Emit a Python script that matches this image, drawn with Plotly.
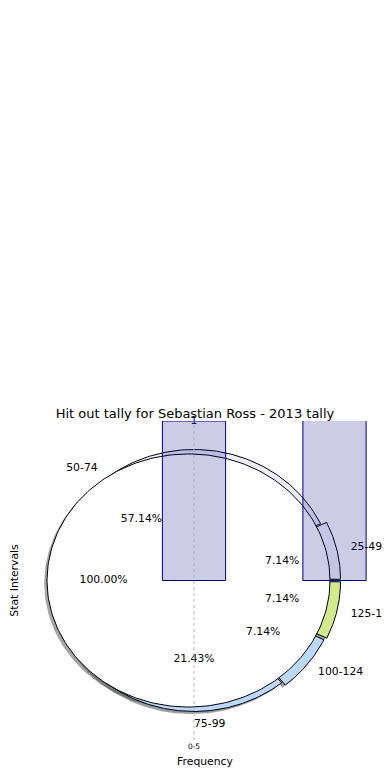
import numpy as np
import plotly.graph_objects as go

# ---------------- data ----------------
chart_title = "Hit out tally for Sebastian Ross - 2013 tally"
x_title = "Frequency"
y_title = "Stat Intervals"

# first pie (single interval)
pie1_labels = ["0-5"]
pie1_counts = [1]

# second pie (remaining intervals)
pie2_labels = ["25-49", "50-74", "75-99", "100-124", "125-149"]
pie2_counts = [1, 8, 3, 1, 1]

# bars
bar_positions = [0, 1]
bar_values = [1, 8]
x_tick_positions = [0]
x_tick_labels = ["0-5"]

# ---------------- style ----------------
FONT = "DejaVu Sans"
pie1_colors = ["#ffffff"]
pie1_radius = (1.007, 0.966)
pie1_center = (-0.039, 0.0)
pie1_explode = [0.0]
pie2_colors = ["#f7f7ff", "#eceefe", "#bcd8ff", "#bcd8ff", "#d2ea8e"]
pie2_radius = (1.0, 1.0)
pie2_center = (0.0, 0.0)
pie2_explode = [0.044, 0.0, 0.0, 0.03, 0.044]
shadow_offset = (-0.02, -0.02)
label_dist = 1.1
pct_dist = 0.6
bar_y_range = [-1, 1]


def hex_rgb(h):
    h = h.lstrip("#")
    return tuple(int(h[i:i + 2], 16) for i in (0, 2, 4))


def pie_geometry(counts, radius, center, explode):
    total = float(sum(counts))
    rx, ry = radius
    out = []
    start = 0.0
    for v, ex in zip(counts, explode):
        span = 360.0 * v / total
        mid = np.radians(start + span / 2)
        cx = center[0] + ex * np.cos(mid)
        cy = center[1] + ex * np.sin(mid)
        t = np.radians(np.linspace(start, start + span, 240))
        xs = cx + rx * np.cos(t)
        ys = cy + ry * np.sin(t)
        if span < 359.999:
            xs = np.concatenate([[cx], xs, [cx]])
            ys = np.concatenate([[cy], ys, [cy]])
        out.append(dict(xs=xs, ys=ys, cx=cx, cy=cy, mid=mid, rx=rx, ry=ry,
                        pct=100.0 * v / total))
        start += span
    return out


g1 = pie_geometry(pie1_counts, pie1_radius, pie1_center, pie1_explode)
g2 = pie_geometry(pie2_counts, pie2_radius, pie2_center, pie2_explode)

fig = go.Figure()

# shadows
for geo, cols in ((g2, pie2_colors), (g1, pie1_colors)):
    for w, c in zip(geo, cols):
        r, g, b = hex_rgb(c)
        fig.add_trace(go.Scatter(
            x=w["xs"] + shadow_offset[0], y=w["ys"] + shadow_offset[1],
            mode="lines", fill="toself",
            fillcolor=f"rgba({int(0.3*r)},{int(0.3*g)},{int(0.3*b)},0.5)",
            line=dict(width=0), hoverinfo="skip", showlegend=False))

# wedges: second pie first, then the single-interval pie on top
for geo, cols in ((g2, pie2_colors), (g1, pie1_colors)):
    for w, c in zip(geo, cols):
        fig.add_trace(go.Scatter(
            x=w["xs"], y=w["ys"], mode="lines", fill="toself",
            fillcolor=c, line=dict(color="black", width=1),
            hoverinfo="skip", showlegend=False))

# labels & percentages
for geo, labels in ((g2, pie2_labels), (g1, pie1_labels)):
    for w, lab in zip(geo, labels):
        lx = w["cx"] + label_dist * w["rx"] * np.cos(w["mid"])
        ly = w["cy"] + label_dist * w["ry"] * np.sin(w["mid"])
        pos = "middle right" if lx >= -1e-9 else "middle left"
        fig.add_trace(go.Scatter(
            x=[lx], y=[ly], mode="text", text=[lab], textposition=pos,
            textfont=dict(family=FONT, size=10.8, color="black"),
            cliponaxis=False, hoverinfo="skip", showlegend=False))
        px_ = w["cx"] + pct_dist * w["rx"] * np.cos(w["mid"])
        py_ = w["cy"] + pct_dist * w["ry"] * np.sin(w["mid"])
        fig.add_trace(go.Scatter(
            x=[px_], y=[py_], mode="text", text=[f"{w['pct']:.2f}%"],
            textposition="middle center",
            textfont=dict(family=FONT, size=10.8, color="black"),
            cliponaxis=False, hoverinfo="skip", showlegend=False))

# bars
fig.add_trace(go.Bar(
    x=bar_positions, y=bar_values, width=0.45,
    marker=dict(color="rgba(0,0,128,0.2)", line=dict(color="#000080", width=1)),
    xaxis="x", yaxis="y2", hoverinfo="skip", showlegend=False))
# value labels (only those whose bar top lies inside the visible range)
vis = [(x, v) for x, v in zip(bar_positions, bar_values) if v <= bar_y_range[1]]
fig.add_trace(go.Scatter(
    x=[p[0] for p in vis], y=[p[1] for p in vis], mode="text",
    text=[str(p[1]) for p in vis], textposition="middle center",
    textfont=dict(family=FONT, size=10.8, color="#000080"),
    xaxis="x", yaxis="y2", cliponaxis=False, hoverinfo="skip", showlegend=False))

fig.update_layout(
    width=390, height=780,
    margin=dict(l=32, r=28, t=413, b=48, autoexpand=False),
    paper_bgcolor="white", plot_bgcolor="white",
    font=dict(family=FONT, color="black"),
    showlegend=False,
    title=dict(text=chart_title, xref="container", x=187 / 390, xanchor="center",
               yref="container", y=1 - 405 / 780, yanchor="middle",
               font=dict(family=FONT, size=13, color="black")),
    xaxis=dict(range=[-1.0961, 1.2527], tickvals=x_tick_positions,
               ticktext=x_tick_labels, ticks="", showgrid=False,
               zeroline=False, showline=False, automargin=False,
               tickfont=dict(family=FONT, size=7.5, color="black"),
               title=dict(text=x_title, standoff=7,
                          font=dict(family=FONT, size=10.8, color="black")),
               fixedrange=True),
    yaxis=dict(range=[-1.2176, 1.2176], showticklabels=False, showgrid=False,
               zeroline=False, showline=False, ticks="", fixedrange=True,
               automargin=False,
               title=dict(text=y_title, standoff=19,
                          font=dict(family=FONT, size=10.8, color="black"))),
    yaxis2=dict(overlaying="y", anchor="x", range=bar_y_range, visible=False,
                fixedrange=True, automargin=False),
    shapes=[dict(type="line", xref="x", yref="paper",
                 x0=x_tick_positions[0], x1=x_tick_positions[0], y0=0, y1=1,
                 line=dict(color="#b4b4b4", width=1, dash="dot"), layer="above")],
)

fig.write_html("out.html")
